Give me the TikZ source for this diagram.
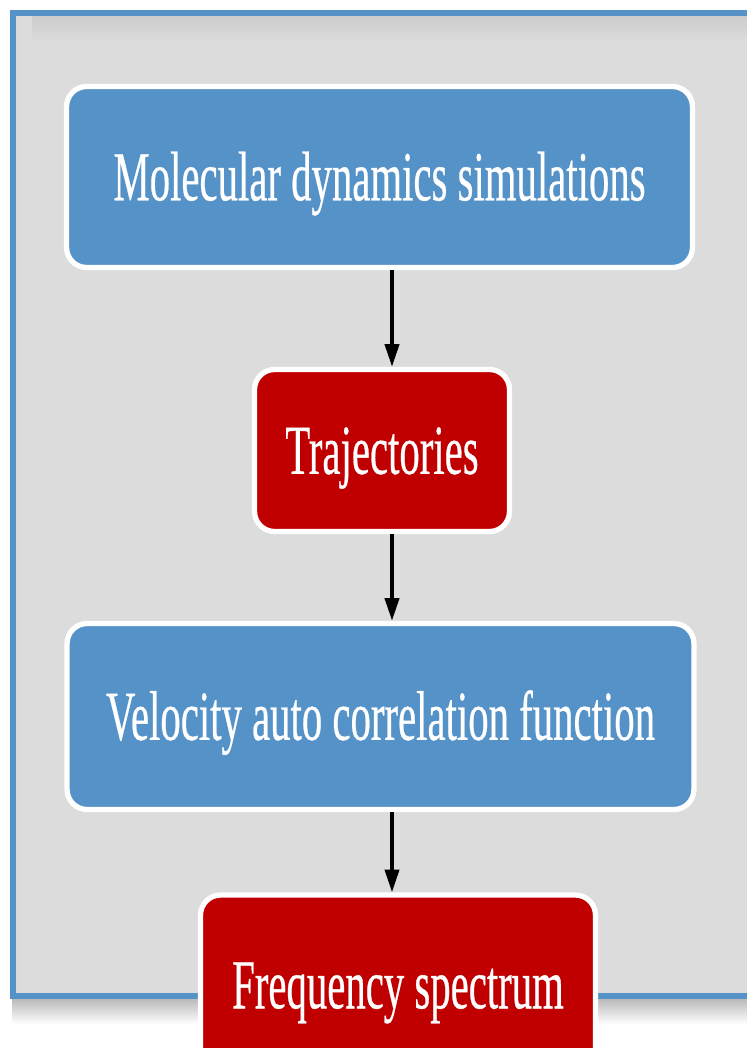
\documentclass[tikz,border=0pt]{standalone}
\usepackage{fontspec}
\setmainfont{Liberation Serif}
\newfontfamily\labelfont{Liberation Serif}[FakeBold=0.6]
\usetikzlibrary{arrows.meta}

\definecolor{boxblue}{HTML}{5592C8}
\definecolor{boxred}{HTML}{C00000}
\definecolor{panelgray}{HTML}{DCDCDC}

% narrow the labels so they sit inside the boxes
\newcommand{\squeeze}[1]{\scalebox{0.58}[1]{#1}}

\tikzset{
  every box/.style={rounded corners=0.4cm, draw=white, line width=3pt,
    text=white, inner sep=0pt, text height=26.5pt, text depth=0pt,
    font=\labelfont\fontsize{40}{48}\selectfont},
  box md/.style={fill=boxblue, minimum width=12.52cm, minimum height=3.62cm},
  box traj/.style={fill=boxred, minimum width=5.1cm, minimum height=3.24cm},
  box vacf/.style={fill=boxblue, minimum width=12.54cm, minimum height=3.72cm},
  box freq/.style={fill=boxred, minimum width=7.9cm, minimum height=3.6cm},
}

\begin{document}
\begin{tikzpicture}[x=0.02cm, y=-0.02cm, >={Triangle[length=13pt, width=8pt]}]
  \useasboundingbox (0,0) rectangle (747,1048);
  \clip (0,0) rectangle (747,1048);

  % panel with its shadows
  \shade [top color=black!28, bottom color=white] (12,998) rectangle (760,1024);
  \fill [panelgray] (13,13) rectangle (770,996);
  \shade [top color=black!20, bottom color=panelgray] (15,16) rectangle (770,42);
  \shade [left color=black!14, right color=panelgray] (15,16) rectangle (32,994);
  \draw [boxblue, line width=3.4pt] (13,13) rectangle (770,996);

  \coordinate (spine) at (392,0);

  \foreach \n/\x/\y/\t in {md/379.5/177/Molecular dynamics simulations,
                           traj/382/450.5/Trajectories,
                           vacf/380.5/716.5/Velocity auto correlation function,
                           freq/398/985/Frequency spectrum}
    \node [every box/.try, box \n/.try] (\n) at (\x,\y) {\squeeze{\t}};

  \foreach \a/\b in {md/traj, traj/vacf, vacf/freq}
    \draw [->, line width=2.2pt] (\a.south -| spine) -- (\b.north -| spine);

\end{tikzpicture}
\end{document}
